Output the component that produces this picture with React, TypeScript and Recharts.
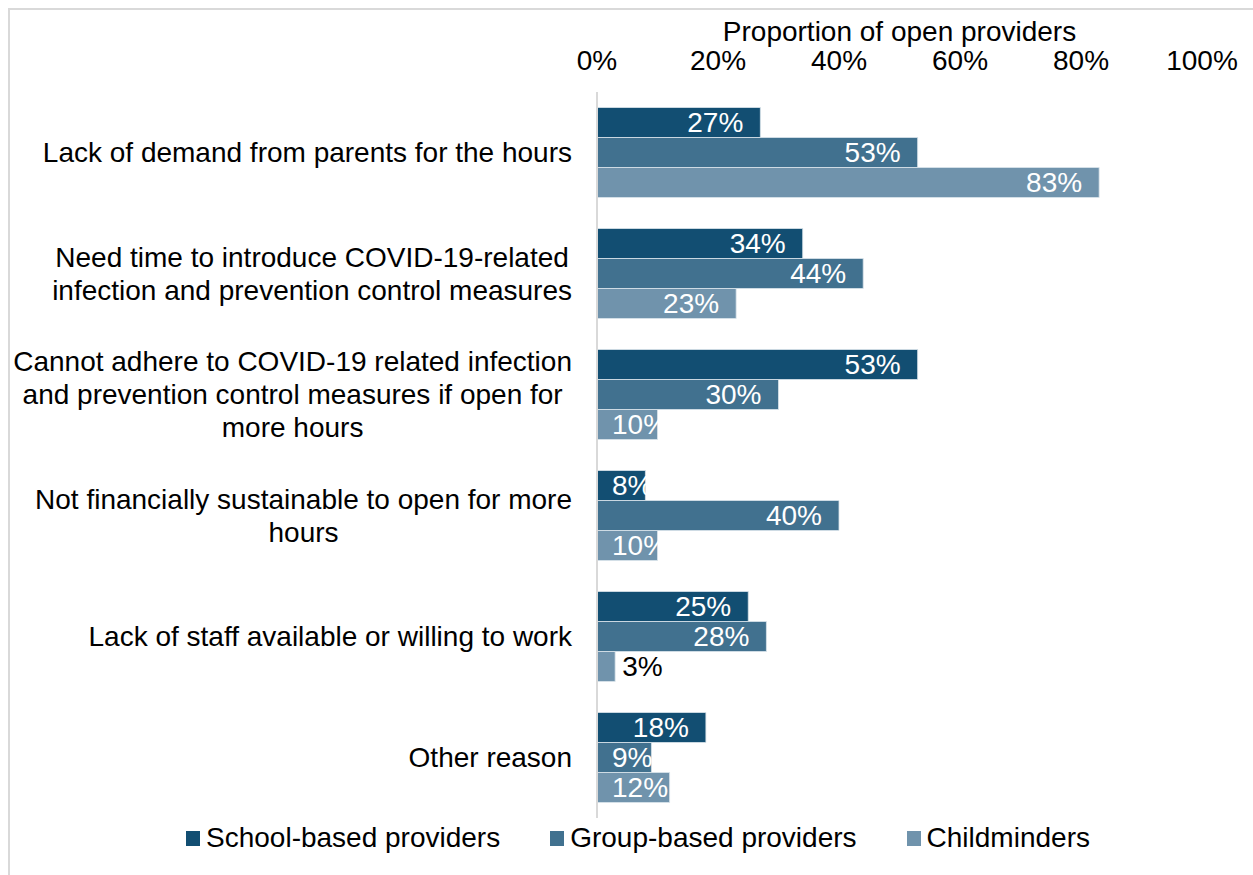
import { BarChart, Bar, XAxis, YAxis, LabelList } from "recharts";

const categories = [
  "Lack of demand from parents for the hours",
  "Need time to introduce COVID-19-related\ninfection and prevention control measures",
  "Cannot adhere to COVID-19 related infection\nand prevention control measures if open for\nmore hours",
  "Not financially sustainable to open for more\nhours",
  "Lack of staff available or willing to work",
  "Other reason",
];
const schoolBased = [27, 34, 53, 8, 25, 18];
const groupBased = [53, 44, 30, 40, 28, 9];
const childminders = [83, 23, 10, 10, 3, 12];
const xTicks = [0, 20, 40, 60, 80, 100];

const series = [
  { key: "school", name: "School-based providers", color: "#124e72" },
  { key: "group", name: "Group-based providers", color: "#41718f" },
  { key: "child", name: "Childminders", color: "#7093ac" },
];

const data = categories.map((c, i) => ({
  name: c,
  school: schoolBased[i],
  group: groupBased[i],
  child: childminders[i],
}));

const FONT = "'Liberation Sans', Arial, sans-serif";
const FS = 28;

// measure text width with a canvas so centred label blocks can be right aligned
let ctx: CanvasRenderingContext2D | null = null;
const textWidth = (t: string) => {
  if (!ctx) ctx = document.createElement("canvas").getContext("2d");
  if (!ctx) return t.length * FS * 0.5;
  ctx.font = `${FS}px ${FONT}`;
  return ctx.measureText(t).width;
};

const CategoryTick = (props: any) => {
  const { y, payload } = props;
  const lines: string[] = String(payload.value).split("\n");
  const right = 572;
  const maxW = Math.max(...lines.map(textWidth));
  const cx = right - maxW / 2;
  const lh = 33;
  const top = y - ((lines.length - 1) * lh) / 2;
  return (
    <g>
      {lines.map((l, i) => (
        <text
          key={i}
          x={lines.length > 1 ? cx : right}
          y={top + i * lh}
          textAnchor={lines.length > 1 ? "middle" : "end"}
          dominantBaseline="central"
          fontSize={FS}
          fontFamily={FONT}
          fill="#000"
        >
          {l}
        </text>
      ))}
    </g>
  );
};

const PercentTick = (props: any) => {
  const { x, payload } = props;
  return (
    <text x={x} y={60} textAnchor="middle" dominantBaseline="central" fontSize={FS} fontFamily={FONT} fill="#000">
      {payload.value}%
    </text>
  );
};

const renderValue = (props: any) => {
  const { x, y, width, height, value } = props;
  const label = `${value}%`;
  const w = textWidth(label);
  const cy = y + height / 2;
  if (value < 5) {
    return (
      <text x={x + width + 7} y={cy} dominantBaseline="central" fontSize={FS} fontFamily={FONT} fill="#000">
        {label}
      </text>
    );
  }
  const sx = Math.max(x + width - 17 - w, x + 15);
  return (
    <text x={sx} y={cy} dominantBaseline="central" fontSize={FS} fontFamily={FONT} fill="#fff">
      {label}
    </text>
  );
};

export default function App() {
  return (
    <div style={{ position: "fixed", left: 0, top: 0, width: 1253, height: 875, background: "#fff" }}>
      <div
        style={{
          position: "absolute",
          left: 8,
          top: 8,
          right: 0,
          bottom: 0,
          borderLeft: "2px solid #d9d9d9",
          borderTop: "2px solid #d9d9d9",
        }}
      />
      <div style={{ position: "absolute", left: 0, top: 0 }}>
        <BarChart
          layout="vertical"
          width={1253}
          height={875}
          data={data}
          margin={{ top: 0, right: 51, left: 0, bottom: 57 }}
          barCategoryGap={15.5}
          barGap={0}
        >
          <XAxis
            type="number"
            orientation="top"
            domain={[0, 100]}
            ticks={xTicks}
            height={92}
            axisLine={false}
            tickLine={false}
            tick={<PercentTick />}
            label={(p: any) => (
              <text
                x={p.viewBox.x + p.viewBox.width / 2}
                y={31}
                textAnchor="middle"
                dominantBaseline="central"
                fontSize={FS}
                fontFamily={FONT}
                fill="#000"
              >
                Proportion of open providers
              </text>
            )}
          />
          <YAxis
            type="category"
            dataKey="name"
            width={597}
            tickLine={false}
            axisLine={{ stroke: "#d9d9d9", strokeWidth: 2 }}
            tick={<CategoryTick />}
            interval={0}
          />
          {series.map((s) => (
            <Bar
              key={s.key}
              dataKey={s.key}
              name={s.name}
              fill={s.color}
              stroke="#dbe4eb"
              strokeWidth={0.8}
              isAnimationActive={false}
            >
              <LabelList dataKey={s.key} content={renderValue} />
            </Bar>
          ))}
        </BarChart>
      </div>
      <div
        style={{
          position: "absolute",
          left: 0,
          top: 820,
          width: 1253,
          display: "flex",
          justifyContent: "center",
          paddingLeft: 23,
          boxSizing: "border-box",
          gap: 50,
          fontFamily: FONT,
          fontSize: FS,
          color: "#000",
        }}
      >
        {series.map((s) => (
          <div key={s.key} style={{ display: "flex", alignItems: "center", gap: 6, height: 36 }}>
            <span style={{ display: "inline-block", width: 14, height: 15, background: s.color }} />
            <span>{s.name}</span>
          </div>
        ))}
      </div>
    </div>
  );
}
